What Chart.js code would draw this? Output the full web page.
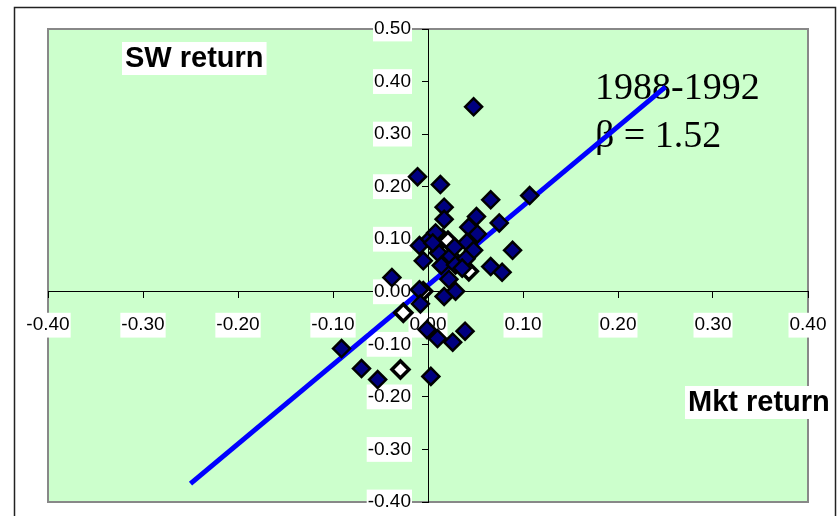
<!DOCTYPE html>
<html>
<head>
<meta charset="utf-8">
<script src="https://cdn.jsdelivr.net/npm/chart.js@4.4.0/dist/chart.umd.min.js"></script>
<style>
  html, body { margin: 0; padding: 0; background: #fff; }
</style>
</head>
<body>
<canvas id="betaChart" width="840" height="516"></canvas>
<script>
  // axis ticks
  const xTicks = [-0.4, -0.3, -0.2, -0.1, 0, 0.1, 0.2, 0.3, 0.4];
  const yTicks = [-0.4, -0.3, -0.2, -0.1, 0, 0.1, 0.2, 0.3, 0.4, 0.5];

  // monthly returns, filled markers
  const mktReturn = [0.048, -0.011, 0.013, 0.066, 0.107, 0.017, 0.017, 0.051, 0.043, 0.075,
    0.052, -0.009, 0.002, 0.008, 0.041, 0.048, 0.089, -0.005, 0.011, 0.024,
    0.014, 0.029, 0.040, 0.066, 0.078, 0.036, 0.022, -0.038, 0.017, 0.029,
    -0.009, -0.008, -0.001, 0.010, 0.026, 0.039, -0.091, -0.070, -0.053, 0.003,
    0.005, 0.028];
  const swReturn = [0.352, 0.219, 0.204, 0.175, 0.183, 0.161, 0.138, 0.143, 0.123, 0.131,
    0.110, 0.088, 0.100, 0.112, 0.094, 0.079, 0.079, 0.059, 0.074, 0.068,
    0.050, 0.051, 0.063, 0.048, 0.037, 0.045, 0.024, 0.027, -0.009, 0.001,
    0.004, -0.023, -0.072, -0.089, -0.096, -0.075, -0.108, -0.146, -0.167, -0.161,
    0.093, 0.085];

  // hollow markers
  const mktReturnOpen = [0.015, 0.021, 0.043, -0.005, -0.026, -0.029];
  const swReturnOpen = [0.101, 0.097, 0.039, 0.001, -0.040, -0.148];

  // fitted line, beta = 1.52
  const fitX = [-0.25, 0.25];
  const fitY = [-0.365, 0.39];

  const toPoints = (xs, ys) => xs.map((x, i) => ({ x: x, y: ys[i] }));

  const frame = {
    id: 'frame',
    beforeDraw(chart) {
      const { ctx, chartArea: a } = chart;
      ctx.save();
      ctx.strokeStyle = '#222';
      ctx.lineWidth = 1.5;
      ctx.strokeRect(14.5, 7.5, 821, 530);
      ctx.fillStyle = '#ccffcc';
      ctx.fillRect(a.left, a.top, a.width, a.height);
      ctx.strokeStyle = '#888';
      ctx.lineWidth = 2;
      ctx.strokeRect(a.left, a.top, a.width, a.height);
      ctx.restore();
    },
    beforeDatasetsDraw(chart) {
      const ctx = chart.ctx;
      ctx.save();
      ctx.textBaseline = 'alphabetic';
      ctx.font = 'bold 29px "Liberation Sans", Arial, sans-serif';
      const boxed = (txt, x, y) => {
        const w = ctx.measureText(txt).width;
        ctx.fillStyle = '#fff';
        ctx.fillRect(x - 3, y - 25, w + 6, 33);
        ctx.fillStyle = '#000';
        ctx.fillText(txt, x, y);
      };
      boxed('SW return', 125, 67);
      boxed('Mkt return', 688, 411);
      ctx.font = '38px "Liberation Serif", "Times New Roman", serif';
      ctx.fillText('1988-1992', 595, 99);
      ctx.fillText('\u03b2 = 1.52', 595, 147);
      ctx.restore();
    }
  };

  const tickFont = { family: '"Liberation Sans", Arial, sans-serif', size: 19 };

  const ctx = document.getElementById('betaChart').getContext('2d');
  const betaChart = new Chart(ctx, {
    type: 'scatter',
    data: {
      datasets: [
        {
          label: 'Fit',
          type: 'line',
          data: toPoints(fitX, fitY),
          borderColor: '#0000ff',
          borderWidth: 5,
          pointRadius: 0,
          fill: false,
          order: 3
        },
        {
          label: 'SW vs Mkt',
          data: toPoints(mktReturn, swReturn),
          pointStyle: 'rectRot',
          pointRadius: 8.5,
          backgroundColor: '#000080',
          borderColor: '#000',
          borderWidth: 2.5,
          order: 1
        },
        {
          label: 'SW vs Mkt (open)',
          data: toPoints(mktReturnOpen, swReturnOpen),
          pointStyle: 'rectRot',
          pointRadius: 8.5,
          backgroundColor: '#fff',
          borderColor: '#000',
          borderWidth: 3.5,
          order: 2
        }
      ]
    },
    options: {
      responsive: false,
      animation: false,
      devicePixelRatio: 1,
      layout: { padding: { left: 48, top: 29, right: 32, bottom: 14 } },
      plugins: {
        legend: { display: false },
        tooltip: { enabled: false }
      },
      scales: {
        x: {
          type: 'linear',
          min: -0.4,
          max: 0.4,
          position: { y: 0 },
          z: 1,
          afterBuildTicks: s => { s.ticks = xTicks.map(v => ({ value: v })); },
          afterFit: s => { s.height = 0; s.paddingLeft = 0; s.paddingRight = 0; },
          ticks: {
            callback: v => v.toFixed(2),
            color: '#000',
            font: tickFont,
            padding: 16,
            maxRotation: 0,
            autoSkip: false,
            showLabelBackdrop: true,
            backdropColor: '#fff',
            backdropPadding: { top: 1, bottom: 1, left: 1, right: 1 }
          },
          grid: { drawOnChartArea: false, drawTicks: true, tickLength: 6, color: '#000' },
          border: { display: true, color: '#000', width: 1 }
        },
        y: {
          type: 'linear',
          min: -0.4,
          max: 0.5,
          position: 'center',
          z: 1,
          afterBuildTicks: s => { s.ticks = yTicks.map(v => ({ value: v })); },
          afterFit: s => { s.width = 0; s.paddingTop = 0; s.paddingBottom = 0; },
          ticks: {
            callback: v => v.toFixed(2),
            color: '#000',
            font: tickFont,
            padding: 11,
            autoSkip: false,
            showLabelBackdrop: true,
            backdropColor: '#fff',
            backdropPadding: { top: 1, bottom: 1, left: 1, right: 1 }
          },
          grid: { drawOnChartArea: false, drawTicks: true, tickLength: 6, color: '#000' },
          border: { display: true, color: '#000', width: 1 }
        }
      }
    },
    plugins: [frame]
  });
</script>
</body>
</html>
